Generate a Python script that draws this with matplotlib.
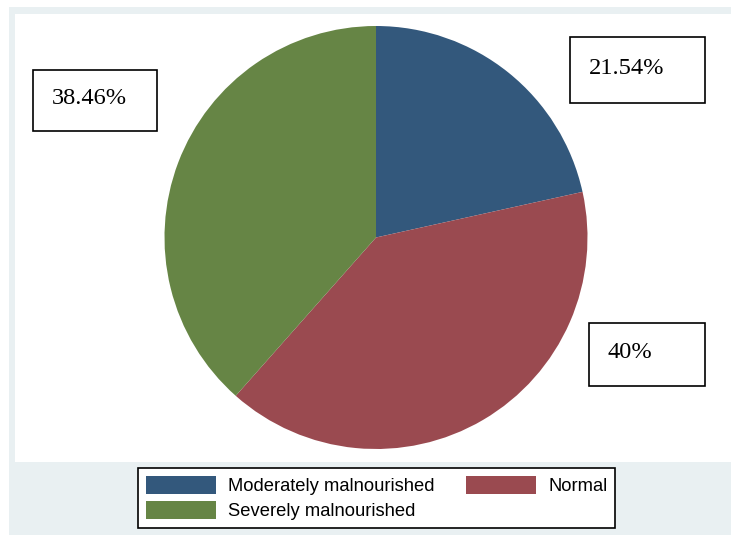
import matplotlib
matplotlib.use("Agg")
import matplotlib.pyplot as plt
from matplotlib.patches import Rectangle, Patch

# data
categories = ["Moderately malnourished", "Normal", "Severely malnourished"]
shares = [21.54, 40.0, 38.46]
share_labels = ["21.54%", "40%", "38.46%"]
colors = ["#33587c", "#9a4a50", "#668545"]

W, H = 731, 537
fig = plt.figure(figsize=(W / 100, H / 100), dpi=100)
fig.patch.set_facecolor("white")


def px_rect(x0, y0, x1, y1, **kw):
    # rectangle given in image pixels (origin top-left)
    r = Rectangle((x0 / W, 1 - y1 / H), (x1 - x0) / W, (y1 - y0) / H,
                  transform=fig.transFigure, **kw)
    fig.patches.append(r)
    return r


# Stata-like background regions
px_rect(9, 7, W, H - 2, facecolor="#e9f0f2", edgecolor="none", zorder=-3)
px_rect(15, 14, W, 462, facecolor="white", edgecolor="none", zorder=-2)

# pie
cx, cy, r = 376, 237.5, 211.5
ax = fig.add_axes([(cx - r) / W, 1 - (cy + r) / H, 2 * r / W, 2 * r / H])
ax.set_zorder(1)
ax.patch.set_visible(False)
ax.pie(shares, colors=colors, startangle=90, counterclock=False,
       radius=1, wedgeprops=dict(linewidth=0))
ax.set_xlim(-1, 1)
ax.set_ylim(-1, 1)
ax.set_aspect("equal")
ax.axis("off")

# percentage boxes
boxes = [(570, 37, 705, 103), (589, 323, 705, 386), (33, 70, 157, 131)]
for (x0, y0, x1, y1), lab in zip(boxes, share_labels):
    px_rect(x0, y0, x1, y1, facecolor="white", edgecolor="black",
            linewidth=1.2, zorder=3)
    fig.text((x0 + 19) / W, 1 - ((y0 + y1) / 2 - 2) / H, lab,
             ha="left", va="center", fontsize=17.6,
             family=["Liberation Serif", "DejaVu Serif"], zorder=4)

# legend (row-wise order with ncol=2)
handles = [Patch(facecolor=c, edgecolor="none") for c in colors]
order = [0, 2, 1]
leg = fig.legend([handles[i] for i in order], [categories[i] for i in order],
                 ncol=2, loc="center", bbox_to_anchor=(376.5 / W, 1 - 498 / H),
                 prop=dict(family="Liberation Sans", size=13.2),
                 frameon=True, fancybox=False, edgecolor="black",
                 facecolor="white", framealpha=1,
                 handlelength=3.85, handleheight=1.15, handletextpad=0.65,
                 columnspacing=1.7, labelspacing=0.28, borderpad=0.42,
                 borderaxespad=0)
leg.get_frame().set_linewidth(1.2)
leg.set_zorder(5)

fig.savefig("out.png", dpi=100)
